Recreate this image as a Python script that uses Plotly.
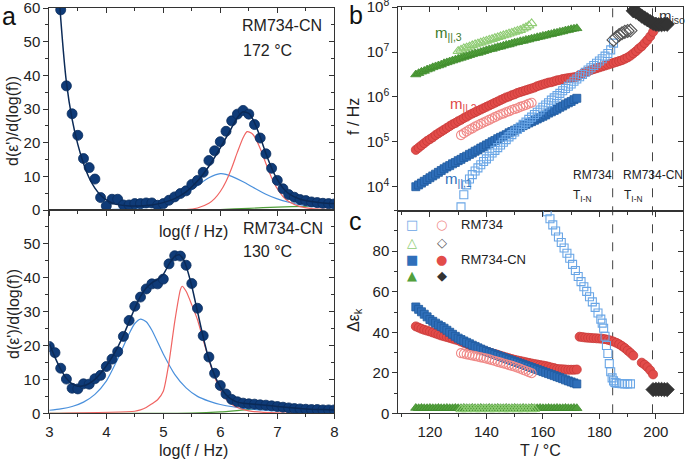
import numpy as np
import plotly.graph_objects as go

W, H = 685, 460
FONT = "Liberation Sans"

# ---------------- panel a : d(eps')/d(log f) spectra ----------------
lf_172 = np.round(np.arange(3.2, 8.01, 0.1), 1)
pts_172 = [59.5, 36.9, 28.6, 22.2, 15.3, 12.6, 9.2, 3.7, 1.2, 3.2,
           3.2, 1.5, 1.5, 1.9, 1.9, 2.1, 2.1, 1.4, 1.9, 2.9,
           3.9, 4.9, 5.7, 7.6, 8.8, 11.2, 14.7, 17.6, 20.3, 23.4,
           26.5, 28.5, 29.6, 28.5, 25.4, 21.4, 16.7, 12.4, 8.8, 6.3,
           4.6, 3.8, 3.1, 2.8, 2.4, 2.2, 2.0, 1.9, 1.8]
fit_172_x = [3.1, 3.15, 3.2, 3.3, 3.4, 3.5, 3.6, 3.7, 3.8, 3.9, 4.0, 4.1, 4.2, 4.4, 4.6, 4.8,
             5.0, 5.2, 5.4, 5.6, 5.8, 6.0, 6.2, 6.3, 6.4, 6.5, 6.6, 6.7, 6.8, 6.9, 7.0,
             7.1, 7.2, 7.4, 7.6, 7.8, 8.0]
fit_172 = [85, 70, 57, 38, 27, 19.5, 13.8, 9.5, 6.5, 4.4, 3.0, 2.1, 1.6, 1.2, 1.2, 1.5,
           2.2, 3.4, 5.4, 8.6, 13, 18.5, 24.5, 27.5, 29.2, 28.7, 26, 21.7, 16.8, 12.5, 9.0,
           6.5, 4.9, 3.2, 2.5, 2.1, 1.9]
blue_172_x = [3.0, 4.0, 4.5, 4.8, 5.0, 5.2, 5.4, 5.6, 5.8, 6.0, 6.1, 6.2, 6.4, 6.6, 6.8,
              7.0, 7.2, 7.4, 7.6, 7.8, 8.0]
blue_172 = [0.05, 0.15, 0.45, 1.0, 1.7, 3.0, 4.9, 7.3, 9.6, 10.8, 10.6, 10.0, 8.4, 6.5, 4.7,
            3.3, 2.3, 1.6, 1.1, 0.8, 0.6]
red_172_x = [3.0, 5.4, 5.6, 5.8, 5.9, 6.0, 6.1, 6.2, 6.3, 6.4, 6.47, 6.55, 6.6, 6.7, 6.8,
             6.9, 7.0, 7.1, 7.2, 7.4, 7.6, 8.0]
red_172 = [0, 0.1, 0.6, 2.0, 3.4, 5.5, 8.5, 12.5, 17.2, 21.5, 23.3, 22.8, 21.8, 18.3, 13.8,
           9.6, 6.3, 4.0, 2.5, 1.0, 0.4, 0.1]
green_172_x = [3.0, 5.5, 6.0, 6.5, 7.0, 7.5, 8.0]
green_172 = [0, 0, 0.15, 0.5, 0.85, 1.1, 1.2]

lf_130 = np.round(np.arange(3.0, 8.01, 0.1), 1)
pts_130 = [19.7, 17.9, 13.3, 10.1, 7.4, 7.2, 8.7, 8.6, 10.2, 11.2,
           13.8, 16.0, 18.2, 22.7, 27.4, 31.6, 34.3, 36.7, 38.2, 38.2,
           39.6, 44.1, 46.5, 46.4, 43.7, 38.3, 31.0, 22.9, 16.6, 11.8,
           8.2, 5.7, 4.1, 3.4, 3.0, 2.8, 2.7, 2.5, 2.4, 2.2,
           2.0, 1.8, 1.6, 1.4, 1.3, 1.2, 1.1, 1.1, 1.0, 1.0, 1.0]
fit_130_x = [3.0, 3.1, 3.2, 3.3, 3.4, 3.5, 3.6, 3.7, 3.8, 3.9, 4.0, 4.1, 4.2, 4.3, 4.4, 4.5,
             4.6, 4.7, 4.8, 4.9, 5.0, 5.1, 5.2, 5.28, 5.35, 5.4, 5.5, 5.6, 5.7, 5.8, 5.9,
             6.0, 6.1, 6.2, 6.3, 6.4, 6.6, 6.8, 7.0, 7.2, 7.4, 7.6, 7.8, 8.0]
fit_130 = [20.5, 16.5, 13, 10.3, 8.7, 8.0, 8.1, 8.8, 10, 11.8, 14, 16.5, 19.5, 23, 27, 31,
           34.5, 37, 38.5, 39.5, 41, 44, 46.3, 46.8, 45.5, 43.5, 37.5, 30, 22.5, 16, 11.2,
           7.8, 5.5, 4.1, 3.3, 3.0, 2.7, 2.4, 2.0, 1.7, 1.4, 1.2, 1.1, 1.0]
blue_130_x = [3.0, 3.2, 3.4, 3.6, 3.8, 4.0, 4.2, 4.4, 4.5, 4.6, 4.7, 4.8, 5.0, 5.2, 5.4,
              5.6, 5.8, 6.0, 6.5, 7.0, 7.5, 8.0]
blue_130 = [0.9, 1.3, 2.0, 3.3, 5.6, 9.5, 16, 23.5, 26.5, 27.8, 27, 24.5, 17.5, 11.5, 7.5,
            5, 3.6, 2.6, 1.3, 0.7, 0.45, 0.3]
red_130_x = [3.0, 4.5, 4.6, 4.7, 4.8, 4.9, 5.0, 5.1, 5.2, 5.3, 5.33, 5.4, 5.5, 5.6, 5.7,
             5.8, 5.9, 6.0, 6.1, 6.2, 6.3, 6.5, 7.0, 8.0]
red_130 = [0, 0.6, 1.0, 1.7, 2.8, 4.0, 6.5, 15, 27, 36.5, 37.5, 36, 32, 27.6, 21.7,
           15.8, 10.8, 6.9, 4.2, 2.7, 1.7, 0.7, 0.1, 0]
green_130_x = [3.0, 5.5, 6.0, 6.5, 6.8, 7.0, 7.3, 7.6, 8.0]
green_130 = [0, 0.05, 0.4, 1.1, 1.4, 1.4, 1.2, 0.8, 0.45]

# ---------------- panel b : relaxation frequencies (log10 f / Hz) ----------------
T_cn = list(range(115, 173))
logf_m1_cn = [4.00, 4.04, 4.08, 4.12, 4.16, 4.20, 4.24, 4.28, 4.32, 4.36,
              4.40, 4.44, 4.47, 4.51, 4.54, 4.58, 4.61, 4.65, 4.68, 4.72,
              4.75, 4.79, 4.82, 4.86, 4.89, 4.93, 4.96, 5.00, 5.03, 5.07,
              5.10, 5.13, 5.16, 5.20, 5.23, 5.26, 5.29, 5.32, 5.36, 5.39,
              5.42, 5.45, 5.48, 5.51, 5.54, 5.57, 5.60, 5.64, 5.67, 5.70,
              5.73, 5.77, 5.80, 5.84, 5.87, 5.90, 5.94, 5.97]
logf_m3_cn = [6.50, 6.53, 6.56, 6.58, 6.61, 6.63, 6.66, 6.68, 6.70, 6.72,
              6.75, 6.77, 6.79, 6.81, 6.83, 6.85, 6.87, 6.89, 6.91, 6.93,
              6.95, 6.97, 6.98, 7.00, 7.02, 7.04, 7.06, 7.07, 7.09, 7.11,
              7.12, 7.14, 7.16, 7.17, 7.19, 7.21, 7.22, 7.24, 7.25, 7.27,
              7.28, 7.30, 7.31, 7.33, 7.34, 7.36, 7.37, 7.39, 7.40, 7.42,
              7.43, 7.45, 7.46, 7.48, 7.49, 7.51, 7.52, 7.53]
T_m2_cn = list(range(115, 200))
logf_m2_cn = [4.82, 4.87, 4.92, 4.97, 5.02, 5.06, 5.10, 5.15, 5.19, 5.23,
              5.27, 5.31, 5.35, 5.39, 5.42, 5.46, 5.49, 5.53, 5.56, 5.60,
              5.63, 5.66, 5.69, 5.72, 5.75, 5.78, 5.81, 5.84, 5.87, 5.90,
              5.93, 5.96, 5.99, 6.01, 6.04, 6.06, 6.09, 6.11, 6.13, 6.15,
              6.17, 6.19, 6.21, 6.24, 6.26, 6.28, 6.30, 6.32, 6.33, 6.35,
              6.37, 6.38, 6.40, 6.41, 6.42, 6.43, 6.44, 6.45, 6.49, 6.52,
              6.55, 6.57, 6.60, 6.62, 6.64, 6.66, 6.68, 6.70, 6.72, 6.74,
              6.76, 6.78, 6.80, 6.82, 6.85, 6.88, 6.92, 6.97, 7.02, 7.08,
              7.13, 7.20, 7.27, 7.35, 7.45]
T_iso_cn = list(range(192, 205))
logf_iso_cn = [7.92, 7.89, 7.85, 7.80, 7.76, 7.72, 7.68, 7.64, 7.62, 7.61, 7.61, 7.62, 7.62]

T_m1_rm = list(range(131, 186))
logf_m1_rm = [3.55, 3.82, 4.04, 4.17, 4.27, 4.35, 4.42, 4.49, 4.56, 4.62,
              4.68, 4.75, 4.81, 4.87, 4.93, 4.99, 5.05, 5.11, 5.16, 5.22,
              5.28, 5.33, 5.39, 5.44, 5.50, 5.55, 5.61, 5.66, 5.71, 5.77,
              5.82, 5.87, 5.93, 5.98, 6.03, 6.08, 6.14, 6.19, 6.24, 6.29,
              6.35, 6.40, 6.45, 6.50, 6.55, 6.60, 6.65, 6.70, 6.75, 6.80,
              6.85, 6.91, 6.97, 7.05, 7.20]
T_m2_rm = list(range(131, 157))
logf_m2_rm = [5.15, 5.19, 5.23, 5.27, 5.30, 5.34, 5.37, 5.40, 5.43, 5.46,
              5.49, 5.52, 5.55, 5.58, 5.61, 5.63, 5.66, 5.68, 5.71, 5.73,
              5.75, 5.78, 5.80, 5.82, 5.85, 5.87]
T_m3_rm = list(range(130, 157))
logf_m3_rm = [7.02, 7.05, 7.08, 7.10, 7.12, 7.15, 7.17, 7.19, 7.21, 7.23,
              7.25, 7.27, 7.29, 7.31, 7.33, 7.35, 7.37, 7.39, 7.41, 7.43,
              7.45, 7.47, 7.49, 7.52, 7.55, 7.59, 7.64]
T_iso_rm = list(range(185, 192))
logf_iso_rm = [7.27, 7.33, 7.38, 7.42, 7.45, 7.47, 7.48]

# ---------------- panel c : dielectric strengths ----------------
de_m1_cn = [52.5, 51.3, 50.1, 48.9, 47.6, 46.3, 45.4, 44.5, 43.6, 42.8,
            42.0, 41.0, 40.0, 39.0, 38.0, 37.1, 36.4, 35.7, 35.0, 34.3,
            33.6, 33.0, 32.3, 31.7, 31.1, 30.5, 30.0, 29.5, 29.0, 28.5,
            28.0, 27.5, 27.0, 26.5, 26.0, 25.6, 25.1, 24.6, 24.1, 23.6,
            23.1, 22.6, 22.1, 21.6, 21.1, 20.6, 20.1, 19.6, 19.1, 18.6,
            18.1, 17.6, 17.1, 16.5, 16.0, 15.5, 15.0, 14.5]
de_m3_cn = [2.6, 2.5, 2.6, 2.5, 2.5, 2.6, 2.5, 2.5, 2.6, 2.5,
            2.5, 2.6, 2.5, 2.5, 2.6, 2.5, 2.5, 2.6, 2.5, 2.5,
            2.6, 2.5, 2.5, 2.6, 2.5, 2.5, 2.6, 2.5, 2.5, 2.6,
            2.5, 2.5, 2.6, 2.5, 2.5, 2.6, 2.5, 2.5, 2.6, 2.5,
            2.5, 2.6, 2.5, 2.5, 2.6, 2.5, 2.5, 2.6, 2.5, 2.5,
            2.6, 2.5, 2.5, 2.6, 2.5, 2.5, 2.6, 2.5]
T_de_m2_cn = list(range(115, 193)) + [195, 196, 197, 198, 199]
de_m2_cn = [42.9, 42.3, 41.7, 41.2, 40.8, 40.4, 39.9, 39.4, 38.9, 38.4,
            38.0, 37.6, 37.2, 36.8, 36.4, 36.0, 35.4, 34.8, 34.3, 33.7,
            33.2, 32.6, 32.1, 31.5, 31.0, 30.5, 30.1, 29.7, 29.3, 28.9,
            28.4, 28.0, 27.6, 27.2, 26.8, 26.4, 26.1, 25.8, 25.5, 25.2,
            24.9, 24.6, 24.3, 24.1, 23.8, 23.6, 23.3, 23.0, 22.6, 22.3,
            21.9, 21.8, 21.7, 21.6, 21.5, 21.5, 21.5, 21.6, 37.8, 37.6,
            37.4, 37.3, 37.2, 37.1, 37.0, 36.9, 36.8, 36.6, 36.3, 35.9,
            35.4, 34.8, 34.1, 33.2, 32.2, 31.0, 29.8, 28.5,
            25.0, 24.0, 22.8, 21.2, 19.2]
T_de_iso_cn = [199, 200, 201, 202, 203, 204]
de_iso_cn = [11.7, 11.8, 11.8, 11.8, 11.7, 11.7]

T_de_m1_rm = [161.5, 162.5, 163.5, 164.5, 165.5, 166.5, 167.5, 168.5, 169.5, 170.5,
              171.5, 172.5, 173.5, 174.5, 175.5, 176.5, 177.5, 178.5, 179.5, 180.5,
              181.0, 181.5, 182.0, 182.5, 183.0, 183.5, 184.0, 184.5, 185.0, 185.5,
              186.0, 187.0, 188.0, 189.0, 190.0, 191.0]
de_m1_rm = [99.5, 96.0, 93.0, 90.0, 87.0, 84.3, 81.6, 79.0, 76.5, 73.5,
            70.5, 67.5, 65.0, 62.5, 60.2, 57.5, 55.0, 52.3, 49.5, 46.5,
            44.5, 42.0, 38.0, 33.5, 29.5, 24.5, 20.5, 17.5, 16.0, 15.2,
            14.9, 14.7, 14.6, 14.5, 14.5, 14.5]
de_m2_rm = [29.7, 29.4, 29.1, 28.8, 28.5, 28.2, 27.9, 27.6, 27.3, 27.0,
            26.6, 26.2, 25.8, 25.4, 25.0, 24.6, 24.2, 23.8, 23.4, 23.0,
            22.5, 22.0, 21.4, 20.9, 20.3, 19.8]
T_de_m3_rm = list(range(131, 158))
de_m3_rm = [1.9, 2.0, 1.9, 2.0, 2.0, 1.9, 2.0, 1.9, 2.0, 2.0,
            1.9, 2.0, 1.9, 2.0, 2.0, 1.9, 2.0, 1.9, 2.0, 2.0,
            1.9, 2.0, 1.9, 2.0, 2.0, 1.9, 2.0]

T_IN = [184.7, 198.8]

NAVY = "#0f3b78"
C_BLUE, C_BLUE_L = "#2f6fba", "#6aa6e6"
C_RED, C_RED_L = "#e24c4a", "#f08a88"
C_GREEN, C_GREEN_L = "#52a03c", "#8fcc74"
C_DARK, C_GRAY = "#333333", "#555555"


def px(x):
    return x / W


def py(y):
    return 1 - y / H


fig = go.Figure()


def line(x, y, color, width, xa, ya):
    fig.add_trace(go.Scatter(x=x, y=y, mode="lines", line=dict(color=color, width=width, shape="spline", smoothing=0.6),
                             xaxis=xa, yaxis=ya, showlegend=False, hoverinfo="skip"))


def dots(x, y, symbol, color, size, xa, ya, edge=None, lw=0.8):
    fig.add_trace(go.Scatter(x=x, y=y, mode="markers",
                             marker=dict(symbol=symbol, color=color, size=size,
                                         line=dict(color=edge or color, width=lw)),
                             xaxis=xa, yaxis=ya, showlegend=False))


# panel a
for (gx, gy, c) in [(green_172_x, green_172, C_GREEN), (blue_172_x, blue_172, "#4a90dc"), (red_172_x, red_172, "#f06462")]:
    line(gx, gy, c, 1.2, "x", "y")
dots(lf_172, pts_172, "circle", NAVY, 10, "x", "y", edge="#0a2d5e")
line(fit_172_x, fit_172, "#0b2a57", 1.5, "x", "y")

for (gx, gy, c) in [(green_130_x, green_130, C_GREEN), (blue_130_x, blue_130, "#4a90dc"), (red_130_x, red_130, "#f06462")]:
    line(gx, gy, c, 1.2, "x2", "y2")
dots(lf_130, pts_130, "circle", NAVY, 10, "x2", "y2", edge="#0a2d5e")
line(fit_130_x, fit_130, "#0b2a57", 1.5, "x2", "y2")

# panel b
to_hz = lambda v: 10 ** np.array(v)
dots(T_m3_rm, to_hz(logf_m3_rm), "triangle-up-open", C_GREEN_L, 9, "x3", "y3", lw=1.1)
dots(T_cn, to_hz(logf_m3_cn), "triangle-up", C_GREEN, 9, "x3", "y3", edge="#3f8a2c")
dots(T_m2_rm, to_hz(logf_m2_rm), "circle-open", C_RED_L, 9, "x3", "y3", lw=1.1)
dots(T_m2_cn, to_hz(logf_m2_cn), "circle", C_RED, 9, "x3", "y3", edge="#c83a38")
dots(T_cn, to_hz(logf_m1_cn), "square", C_BLUE, 8, "x3", "y3", edge="#1f5a9e")
dots(T_m1_rm, to_hz(logf_m1_rm), "square-open", C_BLUE_L, 8, "x3", "y3", lw=1.1)
dots(T_iso_rm, to_hz(logf_iso_rm), "diamond-open", C_GRAY, 10, "x3", "y3", lw=1.1)
dots(T_iso_cn, to_hz(logf_iso_cn), "diamond", C_DARK, 11, "x3", "y3")

# panel c
dots(T_cn, de_m3_cn, "triangle-up", C_GREEN, 9, "x4", "y4", edge="#3f8a2c")
dots(T_de_m3_rm, de_m3_rm, "triangle-up-open", C_GREEN_L, 9, "x4", "y4", lw=1.1)
dots(T_de_m2_cn, de_m2_cn, "circle", C_RED, 9, "x4", "y4", edge="#c83a38")
dots(T_cn, de_m1_cn, "square", C_BLUE, 8, "x4", "y4", edge="#1f5a9e")
dots(T_m2_rm, de_m2_rm, "circle-open", C_RED_L, 9, "x4", "y4", lw=1.1)
dots(T_de_m1_rm, de_m1_rm, "square-open", C_BLUE_L, 8, "x4", "y4", lw=1.1)
dots(T_de_iso_cn, de_iso_cn, "diamond", C_DARK, 11, "x4", "y4")

ax = dict(showline=True, linecolor="#333", linewidth=1, mirror=True, ticks="outside",
          ticklen=5, tickcolor="#333", showgrid=False, zeroline=False, automargin=False,
          ticklabeloverflow="allow", tickfont=dict(family=FONT, size=15, color="#222"))
mn = lambda d, side="outside": dict(dtick=d, ticklen=3, tickcolor="#333", ticks=side)

xa_dom = [px(49.3), px(334.3)]
xb_dom = [px(398.3), px(683)]

panels = {
    # main x, main y, x range, y range, x ticks, y ticks, x minor, y minor, y type
    "a1": ("x", "y", [3, 8], [0, 60.05], [3, 4, 5, 6, 7, 8], [0, 10, 20, 30, 40, 50, 60], 0.5, 5, "linear"),
    "a2": ("x2", "y2", [3, 8], [0, 60], [3, 4, 5, 6, 7, 8], [0, 10, 20, 30, 40, 50], 0.5, 5, "linear"),
    "b": ("x3", "y3", [108.8, 209.6], [3.465, 8.005], [120, 140, 160, 180, 200], [1e4, 1e5, 1e6, 1e7, 1e8], 10, None, "log"),
    "c": ("x4", "y4", [108.8, 209.6], [0, 100], [120, 140, 160, 180, 200], [0, 20, 40, 60, 80], 10, 10, "linear"),
}

fig.update_layout(
    width=W, height=H, margin=dict(l=0, r=0, t=0, b=0, autoexpand=False),
    paper_bgcolor="white", plot_bgcolor="white", showlegend=False,
    font=dict(family=FONT, color="#222"),
    xaxis=dict(ax, domain=xa_dom, range=[3, 8], anchor="y", showticklabels=False, dtick=1, minor=mn(0.5)),
    yaxis=dict(ax, domain=[py(210), py(8)], range=[0, 60.05], anchor="x",
               tickvals=[0, 10, 20, 30, 40, 50, 60], minor=mn(5)),
    xaxis2=dict(ax, domain=xa_dom, range=[3, 8], anchor="y2", dtick=1, minor=mn(0.5)),
    yaxis2=dict(ax, domain=[py(413.3), py(210)], range=[0, 60], anchor="x2",
                tickvals=[0, 10, 20, 30, 40, 50], minor=mn(5)),
    xaxis3=dict(ax, domain=xb_dom, range=[108.8, 209.6], anchor="y3", showticklabels=False,
                tickvals=[120, 140, 160, 180, 200], minor=mn(10)),
    yaxis3=dict(ax, domain=[py(210.7), py(7)], type="log", range=[3.465, 8.005], anchor="x3",
                tickvals=[1e4, 1e5, 1e6, 1e7, 1e8],
                ticktext=["10<sup>4</sup>", "10<sup>5</sup>", "10<sup>6</sup>", "10<sup>7</sup>", "10<sup>8</sup>"]),
    xaxis4=dict(ax, domain=xb_dom, range=[108.8, 209.6], anchor="y4",
                tickvals=[120, 140, 160, 180, 200], minor=mn(10)),
    yaxis4=dict(ax, domain=[py(413.3), py(210.7)], range=[0, 100], anchor="x4",
                tickvals=[0, 20, 40, 60, 80], minor=mn(10)),
)

# mirrored ticks pointing inward on the top and right edges (Origin style)
inner = dict(showline=False, ticks="inside", ticklen=5, tickcolor="#333", showticklabels=False,
             showgrid=False, zeroline=False, automargin=False)
for k, (pk, (xm, ym, xr, yr, xt, yt, xmin, ymin, ytype)) in enumerate(panels.items()):
    n = 5 + k
    fig.update_layout({
        f"xaxis{n}": dict(inner, overlaying=xm, anchor=f"y{n}", side="top", range=xr, tickvals=xt,
                          minor=mn(xmin, "inside")),
        f"yaxis{n}": dict(inner, overlaying=ym, anchor=f"x{n}", side="right", range=yr, tickvals=yt,
                          type=ytype, minor=mn(ymin, "inside") if ymin else None),
    })
    fig.add_trace(go.Scatter(x=[None], y=[None], xaxis=f"x{n}", yaxis=f"y{n}", showlegend=False,
                             hoverinfo="skip"))

for t in T_IN:
    fig.add_shape(type="line", xref="x3", yref="paper", x0=t, x1=t, y0=py(413.3), y1=py(7),
                  line=dict(color="#444", width=1, dash="dash"), layer="below")

ann = []


def text(x, y, s, size=16, color="#222", anchor="center", angle=0, family=FONT):
    ann.append(dict(x=px(x), y=py(y), xref="paper", yref="paper", text=s, showarrow=False,
                    xanchor=anchor, yanchor="middle", textangle=angle, borderpad=0,
                    font=dict(family=family, size=size, color=color)))


# panel letters
text(1, 16, "a", 25, "#111", "left")
text(348, 15, "b", 25, "#111", "left")
text(348, 221, "c", 25, "#111", "left")

# panel a texts
text(13, 121, "d(ε')/d(log(f))", angle=-90)
text(13, 314, "d(ε')/d(log(f))", angle=-90)
text(193, 231, "log(f / Hz)")
text(193, 450, "log(f / Hz)")
text(241, 25, "RM734-CN", anchor="left")
text(242, 50, "172 °C", anchor="left")
text(242, 228, "RM734-CN", anchor="left")
text(242, 252, "130 °C", anchor="left")

# panel b / c texts
text(353, 116, "f / Hz", angle=-90)
text(354, 320, "Δε<sub>k</sub>", angle=-90)
text(540, 450, "T / °C")
text(434, 33, "m<sub>||,3</sub>", 15, "#3d7a2a", "left")
text(449, 104, "m<sub>||,2</sub>", 15, "#e04848", "left")
text(444, 180, "m<sub>||,1</sub>", 15, "#2f6fba", "left")
text(658, 16, "m<sub>iso</sub>", 15, "#333", "left")
text(572, 175, "RM734", 12, "#222", "left")
text(572, 196, "T<sub>I-N</sub>", 12, "#222", "left")
text(622, 175, "RM734-CN", 12, "#222", "left")
text(623, 196, "T<sub>I-N</sub>", 12, "#222", "left")

# legend in panel c
GL = "DejaVu Sans"
text(411.7, 225, "□", 13, C_BLUE_L, family=GL)
text(441.7, 225, "○", 13, C_RED_L, family=GL)
text(460, 225, "RM734", 13, "#222", "left")
text(411.7, 242.7, "△", 13, C_GREEN_L, family=GL)
text(441.7, 242.7, "◇", 13, C_GRAY, family=GL)
text(411.7, 259.3, "■", 13, C_BLUE, family=GL)
text(441.7, 259.3, "●", 13, C_RED, family=GL)
text(460, 259.3, "RM734-CN", 13, "#222", "left")
text(411.7, 275, "▲", 13, C_GREEN, family=GL)
text(441.7, 275, "◆", 13, C_DARK, family=GL)

fig.update_layout(annotations=ann)

# the page's default body margin would shift the fixed-size figure by 8 px
fig.write_html("out.html", config={"displayModeBar": False},
               post_script="document.body.style.margin='0px';")
